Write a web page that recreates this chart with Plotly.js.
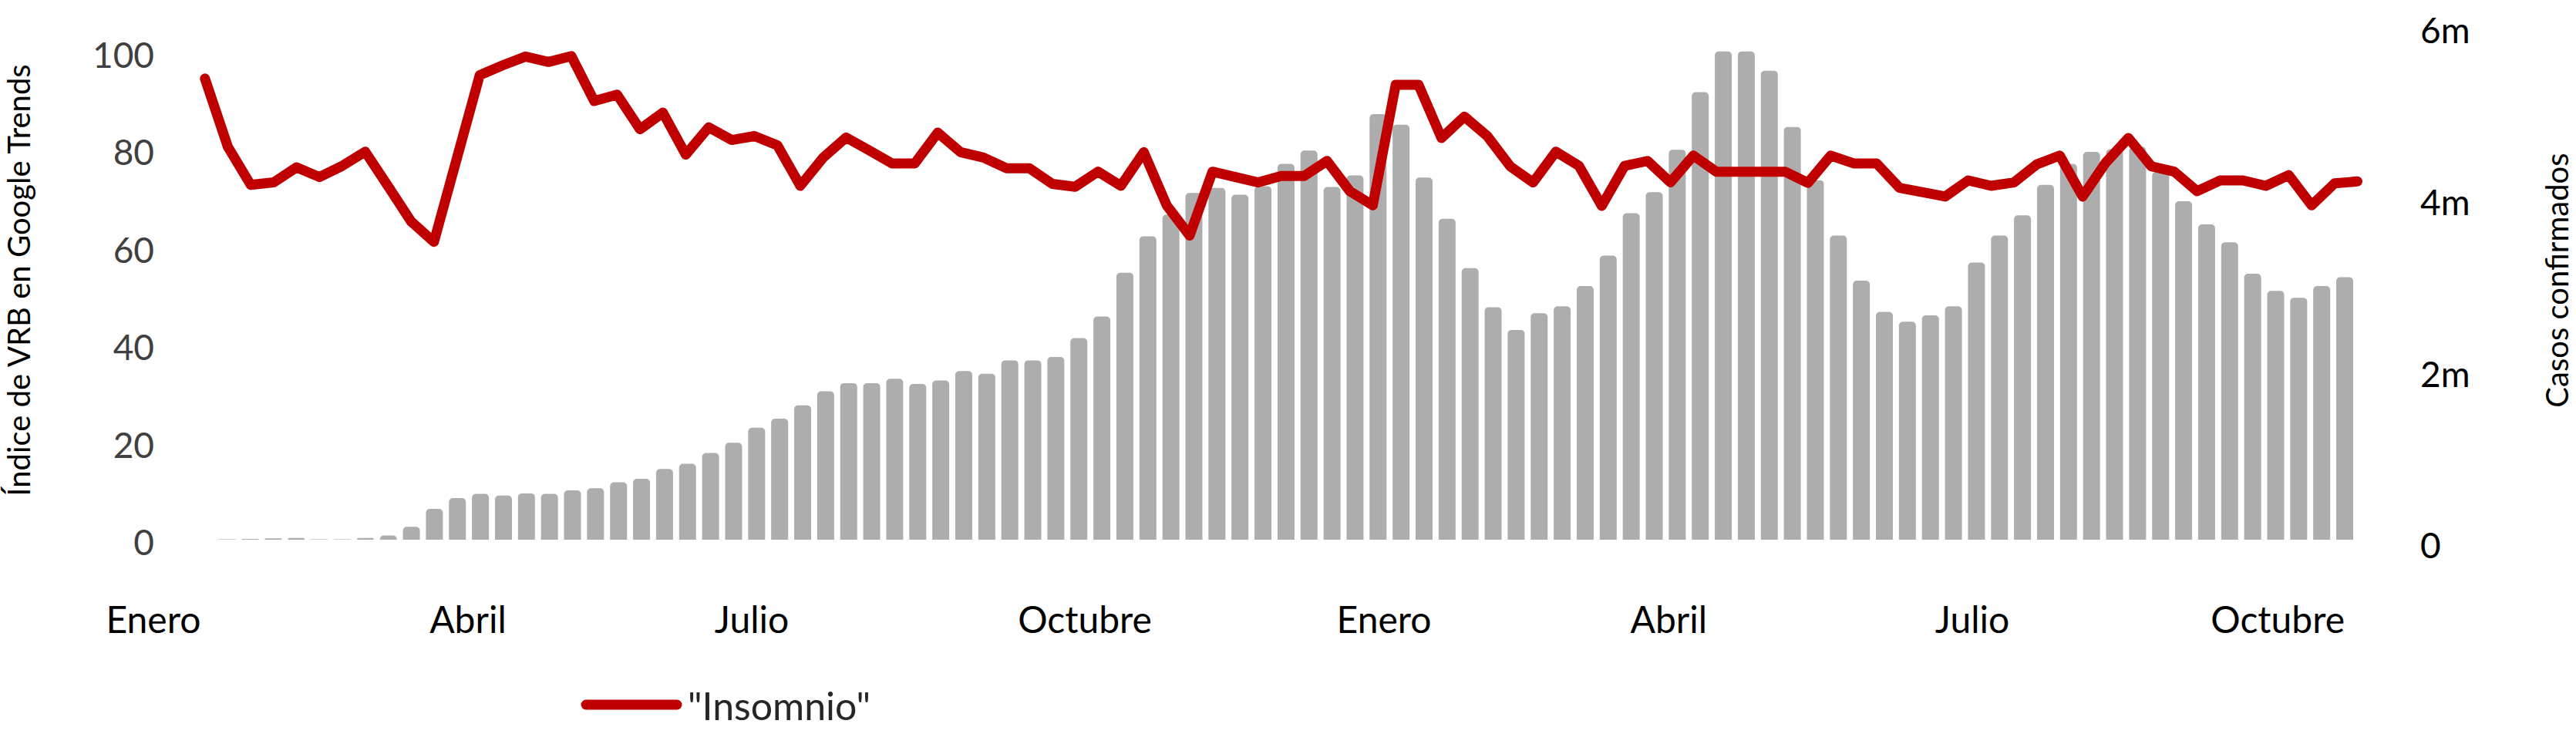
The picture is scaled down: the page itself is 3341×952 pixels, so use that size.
<!DOCTYPE html>
<html>
<head>
<meta charset="utf-8">
<script src="https://cdn.plot.ly/plotly-3.0.1.min.js"></script>
<style>
  html, body { margin: 0; padding: 0; background: #ffffff; }
  #chart { width: 3341px; height: 952px; }
  .scatterlayer .js-line { stroke-linejoin: round !important; stroke-linecap: round !important; }
</style>
</head>
<body>
<div id="chart"></div>
<script>
// Google Trends index for "Insomnio" (weekly, left axis)
const insomnio = [
  95.2, 81.2, 73.4, 73.9, 77.0, 75.0, 77.3, 80.2, 73.1, 65.9,
  61.7, 78.9, 95.9, 97.9, 99.7, 98.6, 99.8, 90.6, 91.9, 84.8,
  88.2, 79.6, 85.2, 82.6, 83.4, 81.5, 73.2, 79.0, 83.1, 80.5,
  77.8, 77.8, 84.1, 80.1, 79.0, 76.8, 76.8, 73.6, 73.0, 76.1,
  73.2, 80.1, 69.2, 63.0, 76.1, 75.0, 73.9, 75.2, 75.2, 78.3,
  72.1, 69.2, 93.9, 93.9, 83.0, 87.4, 83.4, 77.2, 73.9, 80.2,
  77.3, 69.1, 77.3, 78.3, 73.9, 79.4, 76.1, 76.1, 76.1, 76.1,
  73.8, 79.4, 77.8, 77.8, 72.8, 71.7, 71.0, 74.3, 73.2, 73.9,
  77.6, 79.4, 71.0, 77.9, 83.0, 77.2, 76.1, 72.1, 74.3, 74.3,
  73.2, 75.4, 69.2, 73.7, 74.1
];

// Weekly confirmed cases, in millions (right axis)
const casos = [
  0.000, 0.005, 0.010, 0.015, 0.020, 0.005, 0.005, 0.020, 0.050, 0.150,
  0.360, 0.485, 0.535, 0.515, 0.540, 0.535, 0.575, 0.600, 0.670, 0.710,
  0.825, 0.885, 1.010, 1.130, 1.305, 1.410, 1.565, 1.730, 1.825, 1.825,
  1.875, 1.815, 1.855, 1.965, 1.935, 2.090, 2.090, 2.130, 2.350, 2.600,
  3.110, 3.535, 3.790, 4.040, 4.100, 4.020, 4.120, 4.380, 4.535, 4.110,
  4.245, 4.960, 4.835, 4.220, 3.740, 3.165, 2.710, 2.445, 2.640, 2.720,
  2.955, 3.310, 3.805, 4.050, 4.545, 5.215, 5.690, 5.690, 5.465, 4.810,
  4.190, 3.545, 3.018, 2.655, 2.540, 2.615, 2.720, 3.230, 3.545, 3.780,
  4.135, 4.380, 4.520, 4.550, 4.580, 4.285, 3.945, 3.675, 3.465, 3.100,
  2.900, 2.820, 2.955, 3.060
];

const semanasCasos = casos.map((_, i) => i);
const semanasInsomnio = insomnio.map((_, i) => i);

const mesesEtiquetas = ['Enero', 'Abril', 'Julio', 'Octubre', 'Enero', 'Abril', 'Julio', 'Octubre'];
const mesesPos = [-2.21, 11.46, 23.79, 38.26, 51.26, 63.63, 76.82, 90.09];

const indiceTicks = [0, 20, 40, 60, 80, 100];
const casosTicks = [0, 2, 4, 6];
const casosTickText = ['0', '2m', '4m', '6m'];

const FONT = 'Lato, "Open Sans", "Noto Sans", sans-serif';

const traces = [
  {
    type: 'bar',
    name: 'Casos confirmados',
    x: semanasCasos,
    y: casos,
    xaxis: 'x',
    yaxis: 'y',
    width: 0.737,
    marker: { color: '#ADADAD', cornerradius: 5 },
    showlegend: false,
    hoverinfo: 'skip'
  },
  {
    type: 'scatter',
    mode: 'lines',
    name: '"Insomnio"',
    x: semanasInsomnio,
    y: insomnio,
    xaxis: 'x2',
    yaxis: 'y2',
    line: { color: '#C00000', width: 13 },
    showlegend: true,
    hoverinfo: 'skip'
  }
];

const layout = {
  width: 3341,
  height: 952,
  paper_bgcolor: '#ffffff',
  plot_bgcolor: 'rgba(0,0,0,0)',
  font: { family: FONT, color: '#000000' },
  margin: { l: 190, r: 211, t: 15, b: 240, pad: 0 },
  showlegend: true,
  legend: {
    orientation: 'h',
    xref: 'container', yref: 'container',
    x: 742 / 3341, xanchor: 'left',
    y: 1 - 914 / 952, yanchor: 'middle',
    itemwidth: 140,
    font: { family: FONT, size: 50, color: '#262626' },
    bgcolor: 'rgba(0,0,0,0)'
  },
  xaxis: {
    range: [-2.509, 95.98],
    tickmode: 'array',
    tickvals: mesesPos,
    ticktext: mesesEtiquetas,
    showgrid: false, zeroline: false, showline: false,
    ticks: '',
    ticklabelstandoff: 60,
    tickfont: { family: FONT, size: 48, color: '#000000' },
    fixedrange: true
  },
  xaxis2: {
    overlaying: 'x',
    range: [-2.552, 96.44],
    showgrid: false, zeroline: false, showline: false,
    showticklabels: false, ticks: '',
    fixedrange: true
  },
  yaxis: {
    side: 'right',
    range: [-0.1078, 6.1546],
    tickmode: 'array',
    tickvals: casosTicks,
    ticktext: casosTickText,
    showgrid: false, zeroline: false, showline: false,
    ticks: '',
    ticklabelshift: 8,
    ticklabelstandoff: 8,
    tickfont: { family: FONT, size: 46, color: '#000000' },
    title: { text: 'Casos confirmados', font: { family: FONT, size: 40, color: '#000000' }, standoff: 100 },
    fixedrange: true
  },
  yaxis2: {
    overlaying: 'y',
    side: 'left',
    range: [-1.265, 108.93],
    tickmode: 'array',
    tickvals: indiceTicks,
    showgrid: false, zeroline: false, showline: false,
    ticks: '',
    ticklabelstandoff: -11,
    tickfont: { family: FONT, size: 46, color: '#404040' },
    title: { text: 'Índice de VRB en Google Trends', font: { family: FONT, size: 40, color: '#000000' }, standoff: 80 },
    fixedrange: true
  }
};

function fixLegend() {
  document.querySelectorAll('.legend .legendlines path').forEach(p => {
    p.setAttribute('d', 'M18,0h118');
    p.style.strokeWidth = '13px';
    p.style.strokeLinecap = 'round';
  });
}

Plotly.newPlot('chart', traces, layout, { displayModeBar: false, responsive: false, staticPlot: true })
  .then(gd => { fixLegend(); gd.on('plotly_afterplot', fixLegend); });
</script>
</body>
</html>
